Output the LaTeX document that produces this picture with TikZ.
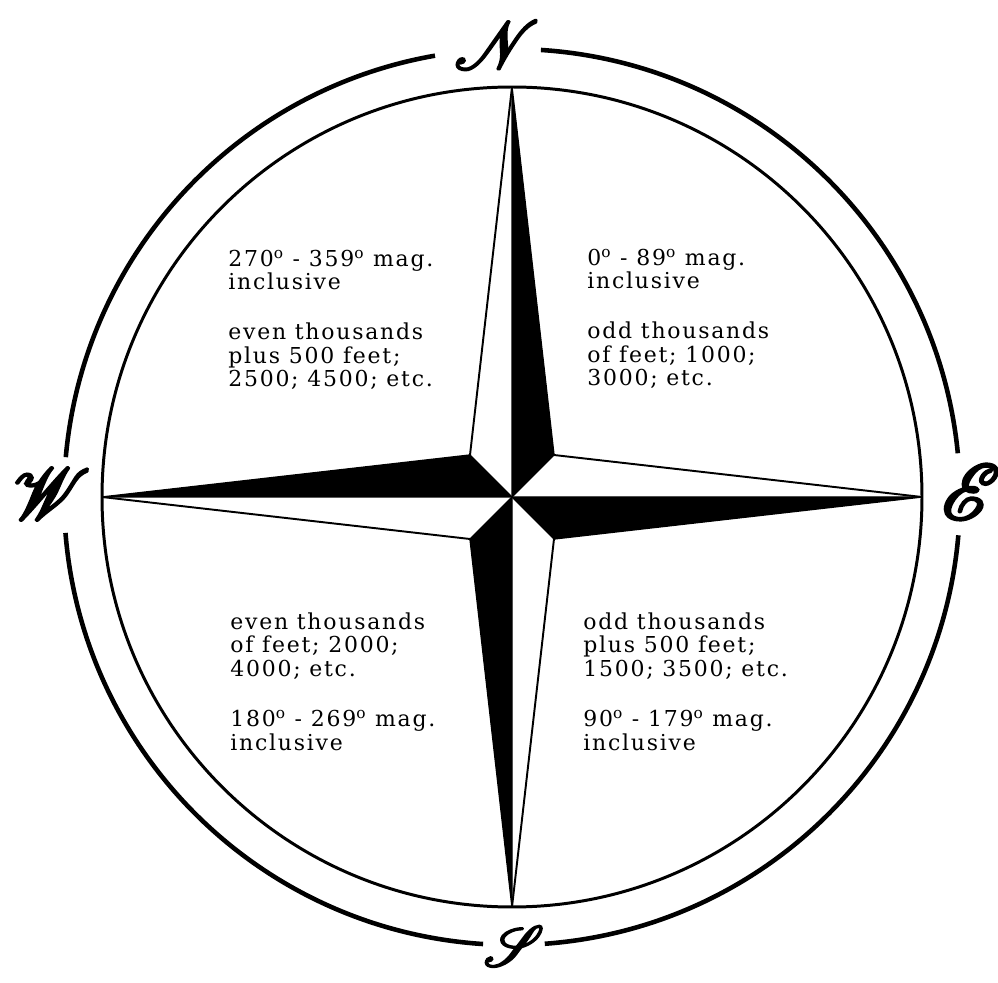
\documentclass[tikz,border=0pt]{standalone}
\usepackage{fontspec}
\usepackage{graphicx}
\usepackage{mathrsfs}
\newfontfamily\typed{DejaVu Serif}[LetterSpace=8]
% stroke the script letters as well as fill them
\newcommand\heavy[1]{\special{pdf:literal direct 2 Tr 0.9 w}#1\special{pdf:literal direct 0 Tr}}

\begin{document}
\begin{tikzpicture}[
  x=0.2mm, y=0.2mm,
  ring/.style={line width=2.6pt},
  rim/.style={line width=1.7pt},
  arm/.style={fill=black,draw=black,line width=0.8pt,line join=round},
  edge/.style={line width=1.1pt,line cap=round},
  note/.style={anchor=base west,align=left,inner sep=0pt,font=\typed\fontsize{12.5}{13.4}\selectfont},
  point/.style={inner sep=0pt,font=\fontsize{24.88}{25}\selectfont}
]
  \useasboundingbox (0,0) rectangle (998,982);
  \coordinate (c) at (512,485);
  % tips of the star
  \coordinate (tn) at (512,895);
  \coordinate (te) at (922,485);
  \coordinate (ts) at (512,75);
  \coordinate (tw) at (102,485);
  % shoulders
  \coordinate (ne) at (554,527);
  \coordinate (nw) at (470,527);
  \coordinate (sw) at (470,443);
  \coordinate (se) at (554,443);

  % rings
  \draw[rim] (c) circle[radius=410];
  \draw[ring] (c) ++(5.6:448) arc[start angle=5.6, end angle=86.3, radius=448];
  \draw[ring] (c) ++(99.9:448) arc[start angle=99.9, end angle=174.9, radius=448];
  \draw[ring] (c) ++(184.6:448) arc[start angle=184.6, end angle=266.3, radius=448];
  \draw[ring] (c) ++(274.2:448) arc[start angle=274.2, end angle=355.1, radius=448];

  % star
  \draw[arm] (tn) -- (ne) -- (c) -- cycle;
  \draw[arm] (te) -- (se) -- (c) -- cycle;
  \draw[arm] (ts) -- (sw) -- (c) -- cycle;
  \draw[arm] (tw) -- (nw) -- (c) -- cycle;
  \draw[edge] (tn) -- (nw);
  \draw[edge] (te) -- (ne);
  \draw[edge] (ts) -- (se);
  \draw[edge] (tw) -- (sw);

  % cardinal letters
  \node[point] (north) at (497,937) {\scalebox{1.55}{\heavy{$\mathscr{N}$}}};
  \node[point] (east) at (971,490) {\scalebox{1.8}{\heavy{$\mathscr{E}$}}};
  \node[point] (south) at (514,36) {\scalebox{1.3}{\heavy{$\mathscr{S}$}}};
  \node[point] (west) at (52,488) {\scalebox{1.65}{\heavy{$\mathscr{W}$}}};

  % quadrant notes (placed at the last baseline)
  \node[note] (qnw) at (228,595) {270\textsuperscript{o} - 359\textsuperscript{o} mag.\\ inclusive\\[5.3mm]
    even thousands\\ plus 500 feet;\\ 2500; 4500; etc.};
  \node[note] (qne) at (587,596) {0\textsuperscript{o} - 89\textsuperscript{o} mag.\\ inclusive\\[5.3mm]
    odd thousands\\ of feet; 1000;\\ 3000; etc.};
  \node[note] (qsw) at (230,232) {even thousands\\ of feet; 2000;\\ 4000; etc.\\[5.3mm]
    180\textsuperscript{o} - 269\textsuperscript{o} mag.\\ inclusive};
  \node[note] (qse) at (583,232) {odd thousands\\ plus 500 feet;\\ 1500; 3500; etc.\\[5.3mm]
    90\textsuperscript{o} - 179\textsuperscript{o} mag.\\ inclusive};
\end{tikzpicture}
\end{document}
